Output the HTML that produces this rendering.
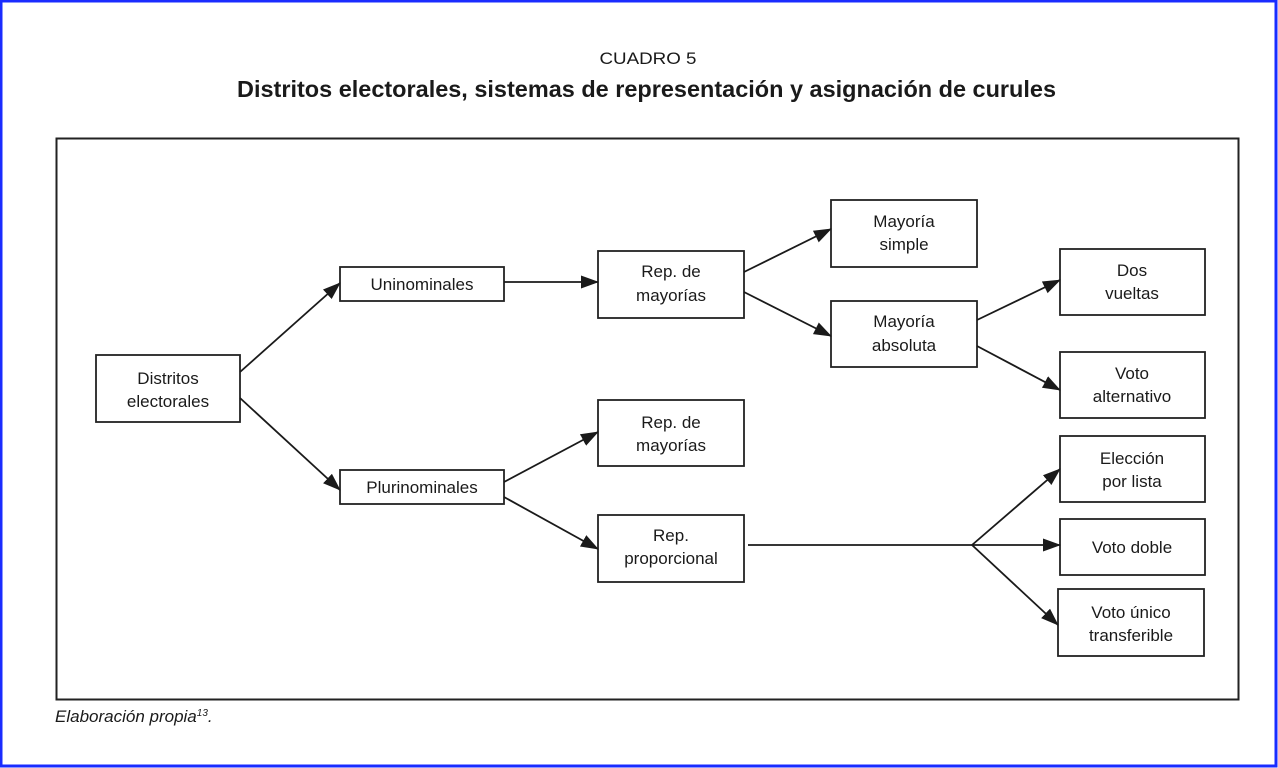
<!DOCTYPE html>
<html><head><meta charset="utf-8"><style>
html,body{margin:0;padding:0;background:#fff;}
svg{display:block;}
text{font-family:"Liberation Sans",sans-serif;fill:#1a1a1a;}
</style></head><body>
<svg width="1278" height="768" viewBox="0 0 1278 768" xmlns="http://www.w3.org/2000/svg">
<defs>
<marker id="b" markerWidth="20" markerHeight="14" refX="17" refY="7" orient="auto" markerUnits="userSpaceOnUse"><path d="M0,0.5 L18,7 L0,13.5 z" fill="#1a1a1a"/></marker></defs>
<rect x="1" y="1" width="1275" height="765" fill="#fff" stroke="#1a2cff" stroke-width="3"/>
<text x="648" y="64" font-size="17" text-anchor="middle" textLength="97" lengthAdjust="spacingAndGlyphs">CUADRO 5</text>
<text x="237" y="97" font-size="23" font-weight="bold" textLength="819" lengthAdjust="spacingAndGlyphs">Distritos electorales, sistemas de representación y asignación de curules</text>
<rect x="56.5" y="138.5" width="1182" height="561" fill="none" stroke="#222" stroke-width="2"/>
<g fill="#fff" stroke="#222" stroke-width="1.8">
<rect x="96" y="355" width="144" height="67"/>
<rect x="340" y="267" width="164" height="34"/>
<rect x="340" y="470" width="164" height="34"/>
<rect x="598" y="251" width="146" height="67"/>
<rect x="598" y="400" width="146" height="66"/>
<rect x="598" y="515" width="146" height="67"/>
<rect x="831" y="200" width="146" height="67"/>
<rect x="831" y="301" width="146" height="66"/>
<rect x="1060" y="249" width="145" height="66"/>
<rect x="1060" y="352" width="145" height="66"/>
<rect x="1060" y="436" width="145" height="66"/>
<rect x="1060" y="519" width="145" height="56"/>
<rect x="1058" y="589" width="146" height="67"/>
</g>
<g stroke="#1a1a1a" stroke-width="1.8" fill="none" marker-end="url(#b)">
<line x1="240" y1="372" x2="340" y2="283"/>
<line x1="240" y1="398" x2="340" y2="490"/>
<line x1="504" y1="282" x2="598" y2="282"/>
<line x1="504" y1="482" x2="598" y2="432"/>
<line x1="504" y1="497" x2="598" y2="549"/>
<line x1="744" y1="272" x2="831" y2="229"/>
<line x1="744" y1="292" x2="831" y2="336"/>
<line x1="977" y1="320" x2="1060" y2="280"/>
<line x1="977" y1="346" x2="1060" y2="390"/>
<line x1="972" y1="545" x2="1060" y2="469"/>
<line x1="972" y1="545" x2="1060" y2="545"/>
<line x1="972" y1="545" x2="1058" y2="625"/>
</g>
<line x1="748" y1="545" x2="972" y2="545" stroke="#1a1a1a" stroke-width="1.8"/>
<g font-size="17" text-anchor="middle">
<text x="168" y="384">Distritos</text><text x="168" y="407">electorales</text>
<text x="422" y="290">Uninominales</text>
<text x="422" y="493">Plurinominales</text>
<text x="671" y="277">Rep. de</text><text x="671" y="301">mayorías</text>
<text x="671" y="428">Rep. de</text><text x="671" y="451">mayorías</text>
<text x="671" y="541">Rep.</text><text x="671" y="564">proporcional</text>
<text x="904" y="227">Mayoría</text><text x="904" y="250">simple</text>
<text x="904" y="327">Mayoría</text><text x="904" y="351">absoluta</text>
<text x="1132" y="276">Dos</text><text x="1132" y="299">vueltas</text>
<text x="1132" y="379">Voto</text><text x="1132" y="402">alternativo</text>
<text x="1132" y="464">Elección</text><text x="1132" y="487">por lista</text>
<text x="1132" y="553">Voto doble</text>
<text x="1131" y="618">Voto único</text><text x="1131" y="641">transferible</text>
</g>
<text x="55" y="722" font-size="17" font-style="italic">Elaboración propia<tspan font-size="10" dy="-6">13</tspan><tspan dy="6">.</tspan></text>
</svg>
</body></html>
